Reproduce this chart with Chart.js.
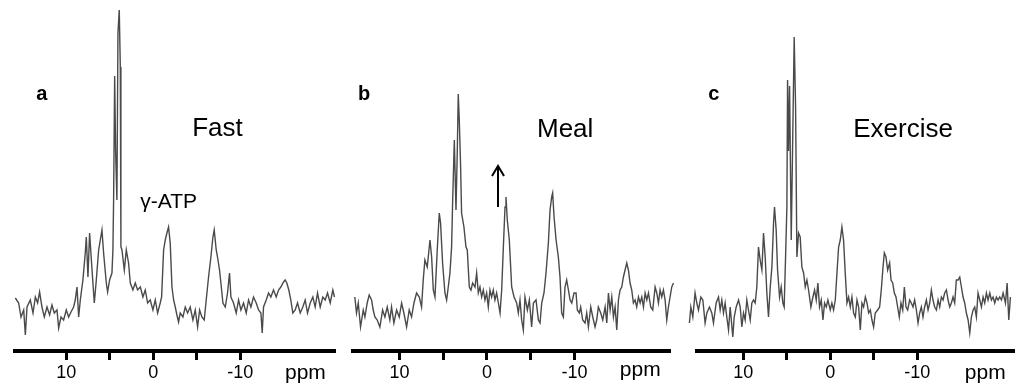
<!DOCTYPE html>
<html><head><meta charset="utf-8">
<script src="https://cdn.jsdelivr.net/npm/chart.js@4/dist/chart.umd.min.js"></script>
<style>
html,body{margin:0;padding:0;background:#fff;width:1019px;height:385px;overflow:hidden}
canvas{position:absolute;top:0}
</style></head><body>
<canvas id="ca" width="340" height="385" style="left:5px"></canvas>
<canvas id="cb" width="335" height="385" style="left:345px"></canvas>
<canvas id="cc" width="337" height="385" style="left:682px"></canvas>
<script>
// ---- tick marks / labels (ppm) ----
const tickValues = [10, 5, 0, -5, -10];
const tickLabels = ['10', '', '0', '', '-10'];

// ---- Panel a: Fast ----
const ppmA = [15.86,15.48,15.21,14.90,14.71,14.52,14.14,13.83,13.56,13.30,13.07,12.80,12.53,12.22,11.92,11.65,11.38,11.07,10.88,10.61,10.31,10.00,9.73,9.46,9.16,8.97,8.77,8.58,8.39,8.09,7.82,7.70,7.51,7.32,7.17,6.94,6.78,6.55,6.28,6.09,5.90,5.71,5.40,5.25,5.02,4.75,4.64,4.56,4.44,4.33,4.18,4.06,3.91,3.79,3.72,3.60,3.33,3.10,2.84,2.64,2.34,2.07,1.80,1.49,1.19,0.92,0.65,0.35,0.04,-0.23,-0.50,-0.80,-0.96,-1.19,-1.38,-1.57,-1.76,-1.95,-2.15,-2.34,-2.53,-2.72,-2.91,-3.10,-3.41,-3.68,-3.95,-4.25,-4.56,-4.83,-5.10,-5.33,-5.59,-5.86,-6.09,-6.36,-6.63,-6.86,-7.01,-7.24,-7.39,-7.62,-7.78,-8.01,-8.28,-8.54,-8.77,-8.93,-9.23,-9.54,-9.81,-10.08,-10.38,-10.69,-10.96,-11.23,-11.53,-11.84,-12.11,-12.38,-12.53,-12.68,-12.99,-13.26,-13.52,-13.83,-14.14,-14.41,-14.67,-14.98,-15.17,-15.36,-15.59,-15.82,-16.05,-16.32,-16.59,-16.90,-17.20,-17.47,-17.74,-18.05,-18.35,-18.62,-18.89,-19.20,-19.50,-19.77,-20.04,-20.35,-20.65,-20.84];
const intA = [53,48,34,41,16,44,51,38,54,48,59,44,34,44,36,46,38,41,23,34,31,41,34,39,44,51,64,34,51,71,98,114,74,118,98,68,48,71,101,111,121,98,68,59,71,78,101,151,275,200,151,318,341,284,104,101,81,101,88,68,61,68,61,64,54,61,48,51,41,51,38,48,54,101,111,118,124,108,64,51,44,36,29,38,34,44,38,44,31,41,24,41,34,31,51,74,94,114,121,101,94,81,68,48,44,58,78,54,48,38,51,41,48,38,51,44,54,48,41,38,18,44,51,58,54,61,54,61,64,69,71,68,61,51,38,41,48,38,44,51,38,48,54,44,58,44,54,51,58,48,61,54];

// ---- Panel b: Meal ----
const ppmB = [15.09,14.90,14.70,14.44,14.13,13.94,13.68,13.45,13.18,12.99,12.80,12.53,12.23,11.92,11.66,11.39,11.09,10.90,10.63,10.32,10.02,9.75,9.49,9.18,8.88,8.61,8.34,8.04,7.73,7.47,7.28,7.09,6.82,6.51,6.32,6.13,5.94,5.68,5.45,5.30,5.07,4.80,4.61,4.42,4.23,4.04,3.92,3.73,3.54,3.39,3.28,3.16,3.01,2.90,2.63,2.40,2.25,2.02,1.83,1.64,1.37,1.18,0.99,0.80,0.61,0.42,0.23,0.04,-0.15,-0.34,-0.53,-0.72,-0.91,-1.10,-1.30,-1.49,-1.68,-1.87,-2.06,-2.17,-2.32,-2.55,-2.82,-3.09,-3.39,-3.58,-3.77,-3.96,-4.15,-4.34,-4.61,-4.84,-5.10,-5.30,-5.60,-5.87,-6.06,-6.25,-6.51,-6.74,-7.01,-7.20,-7.39,-7.50,-7.66,-7.89,-8.15,-8.34,-8.53,-8.72,-8.91,-9.10,-9.30,-9.49,-9.68,-9.94,-10.17,-10.32,-10.55,-10.70,-10.93,-11.20,-11.39,-11.58,-11.85,-12.08,-12.34,-12.53,-12.72,-12.99,-13.22,-13.49,-13.68,-13.87,-14.06,-14.25,-14.44,-14.63,-14.82,-15.01,-15.20,-15.39,-15.58,-15.77,-15.96,-16.15,-16.34,-16.53,-16.72,-16.91,-17.10,-17.30,-17.49,-17.68,-17.87,-18.06,-18.25,-18.44,-18.70,-18.93,-19.20,-19.39,-19.58,-19.77,-19.96,-20.15,-20.34,-20.53,-20.72,-20.91,-21.10,-21.30];
const intB = [54,38,48,24,41,34,48,56,51,41,34,31,24,41,34,44,31,44,28,41,34,48,38,24,41,34,48,58,54,44,71,91,84,111,94,61,54,101,138,128,88,58,51,64,78,104,150,211,141,200,257,230,184,138,124,104,101,64,61,68,64,78,58,64,54,61,51,58,44,61,54,61,51,58,48,38,61,104,144,154,131,111,64,54,48,38,51,31,21,54,41,51,24,48,51,31,28,48,58,78,108,141,154,158,134,111,94,74,38,34,64,71,61,51,48,58,58,41,38,44,31,28,38,24,44,34,24,31,44,38,31,44,28,58,41,54,34,44,21,51,61,64,74,81,88,81,68,61,48,51,44,54,48,54,44,58,51,58,44,41,64,58,48,61,54,61,51,31,44,54,64,68];

// ---- Panel c: Exercise ----
const ppmC = [16.17,16.01,15.78,15.52,15.32,15.13,14.86,14.63,14.37,14.17,13.87,13.60,13.41,13.10,12.83,12.64,12.45,12.26,12.07,11.88,11.68,11.49,11.19,11.03,10.80,10.53,10.34,10.15,9.96,9.77,9.58,9.39,9.19,9.00,8.81,8.62,8.43,8.24,8.05,7.85,7.66,7.47,7.28,7.09,6.89,6.70,6.51,6.40,6.21,6.05,5.82,5.63,5.44,5.29,5.13,4.98,4.90,4.79,4.67,4.48,4.33,4.14,3.98,3.83,3.64,3.45,3.26,3.06,2.87,2.68,2.49,2.22,1.99,1.80,1.61,1.42,1.23,1.03,0.84,0.65,0.46,0.27,0.00,-0.19,-0.38,-0.58,-0.77,-0.96,-1.15,-1.34,-1.53,-1.72,-1.92,-2.11,-2.30,-2.49,-2.68,-2.88,-3.07,-3.26,-3.45,-3.64,-3.83,-4.03,-4.22,-4.41,-4.60,-4.79,-4.98,-5.17,-5.44,-5.67,-5.86,-6.06,-6.21,-6.40,-6.59,-6.82,-6.98,-7.17,-7.36,-7.55,-7.74,-7.93,-8.12,-8.32,-8.51,-8.70,-8.89,-9.12,-9.31,-9.50,-9.69,-9.89,-10.08,-10.27,-10.46,-10.65,-10.84,-11.04,-11.23,-11.42,-11.61,-11.80,-11.99,-12.19,-12.38,-12.57,-12.76,-12.95,-13.14,-13.34,-13.53,-13.72,-13.91,-14.10,-14.29,-14.48,-14.68,-14.87,-15.06,-15.25,-15.44,-15.63,-15.83,-16.02,-16.21,-16.40,-16.59,-16.78,-16.97,-17.17,-17.36,-17.55,-17.74,-17.93,-18.12,-18.32,-18.51,-18.70,-18.89,-19.08,-19.27,-19.46,-19.66,-19.85,-20.12,-20.31,-20.50,-20.69];
const intC = [28,44,34,58,48,41,54,51,28,38,44,38,28,48,54,41,51,38,48,34,21,44,14,34,44,51,44,24,38,31,51,41,31,48,51,48,64,104,91,81,118,94,58,34,64,84,128,144,121,81,54,64,48,44,94,144,271,200,265,111,200,314,244,94,118,114,84,78,64,71,61,44,54,61,51,68,44,51,31,48,44,51,41,48,41,51,78,104,111,124,111,78,48,54,44,54,38,34,51,44,21,48,44,54,48,38,41,31,24,38,41,44,61,84,98,94,81,88,71,68,58,54,44,34,48,41,64,44,41,51,48,44,51,41,28,38,44,34,44,51,41,48,61,51,44,41,51,44,54,51,58,61,51,44,48,54,48,71,71,74,64,54,48,38,31,18,34,41,44,34,58,51,44,54,48,58,51,58,51,54,48,54,51,54,51,58,48,68,31,54];

const FONT = '"Liberation Sans", Arial, sans-serif';

const annot = {
  id: 'annot',
  afterDatasetsDraw(chart, args, opts) {
    const ctx = chart.ctx, xs = chart.scales.x, ys = chart.scales.y;
    ctx.save();
    ctx.fillStyle = '#000';
    (opts.texts || []).forEach(t => {
      ctx.font = t.font + ' ' + FONT;
      ctx.textAlign = t.align || 'left';
      ctx.textBaseline = t.baseline || 'alphabetic';
      const x = xs.getPixelForValue(t.x);
      const y = t.py !== undefined ? t.py : ys.getPixelForValue(t.y);
      ctx.fillText(t.text, x, y);
    });
    if (opts.arrow) {
      const a = opts.arrow;
      const x = xs.getPixelForValue(a.x), y1 = ys.getPixelForValue(a.y1), y2 = ys.getPixelForValue(a.y2);
      ctx.strokeStyle = '#000'; ctx.lineWidth = 2;
      ctx.beginPath(); ctx.moveTo(x, y1); ctx.lineTo(x, y2 + 1); ctx.stroke();
      ctx.beginPath(); ctx.moveTo(x - 6, y2 + 11); ctx.lineTo(x, y2 + 1); ctx.lineTo(x + 6, y2 + 11); ctx.stroke();
    }
    ctx.restore();
  }
};

function makeChart(id, ppm, inten, xLeft, xRight, padL, padR, notes) {
  return new Chart(document.getElementById(id), {
    type: 'line',
    data: { datasets: [{ data: ppm.map((p, i) => ({ x: p, y: inten[i] })), borderColor: '#4a4a4a', borderWidth: 1.4, pointRadius: 0, tension: 0, clip: false }] },
    options: {
      responsive: false, animation: false, events: [],
      layout: { padding: { left: padL, right: padR, top: 0, bottom: 0 } },
      plugins: { legend: { display: false }, tooltip: { enabled: false }, annot: notes },
      scales: {
        x: {
          type: 'linear', reverse: true, min: xRight, max: xLeft,
          afterBuildTicks: s => { s.ticks = tickValues.map(v => ({ value: v })); },
          afterFit: s => { s.height = 34; },
          border: { display: true, color: '#000', width: 4 },
          grid: { drawOnChartArea: false, drawTicks: true, tickLength: 9, tickWidth: 3, tickColor: '#000' },
          ticks: { autoSkip: false, maxRotation: 0, minRotation: 0, padding: 2, color: '#000',
                   font: { family: FONT, size: 18 },
                   callback: (v, i) => tickLabels[i] }
        },
        y: { display: false, min: 0, max: 351 }
      }
    },
    plugins: [annot]
  });
}

makeChart('ca', ppmA, intA, 15.9, -20.9, 10, 10, {
  texts: [
    { text: 'a', x: 13.45, y: 251, font: 'bold 20px' },
    { text: 'Fast', x: -4.48, y: 215, font: '26px' },
    { text: 'γ-ATP', x: 1.5, y: 143, font: '21px' },
    { text: 'ppm', x: -17.5, py: 373, font: '21px', align: 'center', baseline: 'middle' }
  ]
});
makeChart('cb', ppmB, intB, 15.3, -20.9, 8, 10, {
  texts: [
    { text: 'b', x: 14.74, y: 251, font: 'bold 20px' },
    { text: 'Meal', x: -5.71, y: 214, font: '26px' },
    { text: 'ppm', x: -17.5, py: 370, font: '21px', align: 'center', baseline: 'middle' }
  ],
  arrow: { x: -1.26, y1: 144, y2: 186 }
});
makeChart('cc', ppmC, intC, 15.3, -21.1, 15, 5, {
  texts: [
    { text: 'c', x: 14.02, y: 251, font: 'bold 20px' },
    { text: 'Exercise', x: -2.64, y: 214, font: '26px' },
    { text: 'ppm', x: -17.8, py: 373, font: '21px', align: 'center', baseline: 'middle' }
  ]
});
</script>
</body></html>
